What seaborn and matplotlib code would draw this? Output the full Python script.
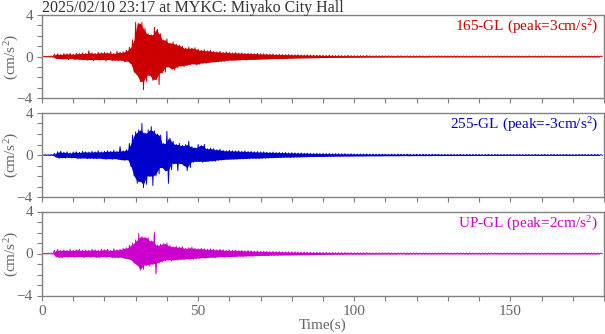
import numpy as np
import pandas as pd
import matplotlib
matplotlib.use("Agg")
import matplotlib.pyplot as plt
import seaborn as sns
from matplotlib.ticker import MultipleLocator

# ---------------- data (1 s steps, 0..179 s) ----------------
# per-second positive / negative extremes of each component (cm/s^2)
ns_up = [0.02,0.03,0.03,0.05,0.22,0.25,0.2,0.28,0.25,0.3,
         0.22,0.3,0.28,0.35,0.3,0.55,0.35,0.3,0.4,0.35,
         0.4,0.35,0.45,0.3,0.5,0.4,0.45,0.6,0.9,1.6,
         3.3,3.2,3.3,2.7,2.2,2.1,2.8,2.6,2.2,1.6,
         1.7,1.3,1.4,1.2,1.1,1.0,0.8,0.9,0.8,0.85,
         0.7,0.6,0.65,0.55,0.6,0.5,0.45,0.5,0.4,0.45,
         0.4,0.35,0.38,0.33,0.35,0.3,0.32,0.3,0.28,0.3,
         0.25,0.27,0.24,0.22,0.25,0.2,0.22,0.2,0.18,0.2,
         0.17,0.16,0.18,0.15,0.14,0.15,0.13,0.14,0.12,0.12,
         0.11,0.1,0.12,0.1,0.09,0.1,0.09,0.08,0.1,0.08,
         0.08,0.07,0.08,0.07,0.09,0.07,0.06,0.07,0.06,0.07,
         0.06,0.07,0.06,0.05,0.07,0.06,0.05,0.06,0.05,0.06,
         0.05,0.06,0.05,0.05,0.06,0.05,0.05,0.06,0.05,0.05,
         0.05,0.05,0.06,0.05,0.04,0.05,0.05,0.04,0.05,0.05,
         0.04,0.05,0.04,0.05,0.04,0.04,0.05,0.04,0.04,0.05,
         0.04,0.04,0.05,0.04,0.04,0.04,0.05,0.04,0.04,0.04,
         0.04,0.05,0.04,0.04,0.04,0.04,0.05,0.04,0.04,0.04,
         0.04,0.04,0.04,0.05,0.04,0.04,0.04,0.04,0.04,0.04]
ns_lo = [-0.02,-0.02,-0.03,-0.04,-0.18,-0.2,-0.25,-0.22,-0.3,-0.2,
         -0.28,-0.25,-0.3,-0.28,-0.35,-0.3,-0.4,-0.3,-0.35,-0.3,
         -0.45,-0.3,-0.4,-0.35,-0.4,-0.35,-0.5,-0.45,-0.7,-1.5,
         -1.8,-2.4,-3.2,-2.4,-1.8,-2.3,-2.2,-2.7,-1.6,-1.5,
         -1.0,-1.2,-1.3,-1.1,-0.9,-1.0,-0.85,-0.8,-0.7,-0.8,
         -0.75,-0.65,-0.6,-0.6,-0.55,-0.5,-0.5,-0.45,-0.45,-0.4,
         -0.35,-0.38,-0.33,-0.35,-0.3,-0.33,-0.3,-0.28,-0.3,-0.26,
         -0.27,-0.24,-0.25,-0.22,-0.2,-0.22,-0.2,-0.19,-0.2,-0.17,
         -0.18,-0.15,-0.16,-0.14,-0.15,-0.13,-0.14,-0.12,-0.13,-0.11,
         -0.1,-0.11,-0.1,-0.09,-0.1,-0.08,-0.09,-0.08,-0.08,-0.07,
         -0.07,-0.08,-0.07,-0.07,-0.06,-0.07,-0.06,-0.06,-0.07,-0.06,
         -0.06,-0.05,-0.06,-0.06,-0.05,-0.06,-0.05,-0.05,-0.06,-0.05,
         -0.05,-0.05,-0.06,-0.05,-0.05,-0.04,-0.05,-0.05,-0.04,-0.05,
         -0.05,-0.04,-0.05,-0.05,-0.04,-0.05,-0.04,-0.05,-0.04,-0.04,
         -0.05,-0.04,-0.04,-0.05,-0.04,-0.04,-0.04,-0.05,-0.04,-0.04,
         -0.04,-0.05,-0.04,-0.04,-0.04,-0.05,-0.04,-0.04,-0.04,-0.04,
         -0.05,-0.04,-0.04,-0.04,-0.04,-0.04,-0.04,-0.05,-0.04,-0.04,
         -0.04,-0.04,-0.05,-0.04,-0.04,-0.04,-0.04,-0.04,-0.04,-0.04]

ew_up = [0.02,0.02,0.03,0.03,0.15,0.3,0.35,0.25,0.3,0.2,
         0.28,0.3,0.25,0.35,0.3,0.28,0.35,0.3,0.4,0.3,
         0.35,0.4,0.35,0.45,0.35,0.8,0.4,0.5,1.1,1.9,
         2.2,2.4,3.0,2.1,2.4,2.7,2.3,2.0,1.9,1.1,
         2.25,1.6,1.3,1.0,1.1,0.9,1.0,1.3,0.8,0.7,
         1.0,0.9,1.0,0.6,0.65,0.6,0.5,0.55,0.45,0.4,
         0.45,0.4,0.38,0.4,0.35,0.4,0.33,0.35,0.3,0.32,
         0.28,0.3,0.27,0.25,0.28,0.24,0.25,0.22,0.24,0.2,
         0.22,0.2,0.18,0.2,0.17,0.18,0.16,0.15,0.17,0.14,
         0.15,0.13,0.14,0.12,0.13,0.12,0.11,0.12,0.1,0.11,
         0.1,0.09,0.1,0.09,0.1,0.08,0.09,0.08,0.09,0.08,
         0.08,0.07,0.08,0.07,0.09,0.07,0.07,0.08,0.07,0.06,
         0.07,0.06,0.07,0.06,0.06,0.07,0.06,0.06,0.05,0.06,
         0.05,0.06,0.05,0.05,0.06,0.05,0.05,0.05,0.05,0.05,
         0.05,0.04,0.05,0.05,0.04,0.05,0.05,0.04,0.05,0.04,
         0.05,0.04,0.04,0.05,0.04,0.05,0.04,0.04,0.05,0.04,
         0.04,0.05,0.04,0.04,0.05,0.04,0.04,0.04,0.05,0.04,
         0.04,0.04,0.05,0.04,0.04,0.04,0.04,0.05,0.04,0.04]
ew_lo = [-0.02,-0.02,-0.02,-0.03,-0.2,-0.3,-0.25,-0.3,-0.22,-0.28,
         -0.25,-0.3,-0.3,-0.28,-0.35,-0.3,-0.3,-0.35,-0.3,-0.35,
         -0.4,-0.35,-0.4,-0.35,-0.4,-0.45,-0.5,-0.45,-1.1,-2.0,
         -2.7,-2.5,-3.1,-2.8,-2.0,-2.9,-2.0,-1.8,-1.2,-1.5,
         -2.7,-1.4,-0.8,-1.5,-0.8,-1.0,-1.5,-1.2,-0.7,-0.6,
         -0.6,-0.7,-0.6,-0.6,-0.55,-0.6,-0.5,-0.45,-0.45,-0.4,
         -0.4,-0.38,-0.4,-0.35,-0.38,-0.33,-0.35,-0.3,-0.32,-0.3,
         -0.3,-0.27,-0.28,-0.25,-0.25,-0.24,-0.22,-0.24,-0.2,-0.22,
         -0.2,-0.19,-0.18,-0.18,-0.16,-0.17,-0.15,-0.16,-0.14,-0.15,
         -0.13,-0.14,-0.12,-0.13,-0.11,-0.12,-0.11,-0.1,-0.11,-0.1,
         -0.1,-0.09,-0.1,-0.09,-0.09,-0.08,-0.09,-0.08,-0.08,-0.08,
         -0.07,-0.08,-0.07,-0.08,-0.07,-0.07,-0.06,-0.07,-0.07,-0.06,
         -0.06,-0.07,-0.06,-0.06,-0.07,-0.06,-0.05,-0.06,-0.06,-0.05,
         -0.05,-0.06,-0.05,-0.05,-0.05,-0.06,-0.05,-0.05,-0.05,-0.04,
         -0.05,-0.05,-0.04,-0.05,-0.05,-0.04,-0.05,-0.04,-0.05,-0.04,
         -0.04,-0.05,-0.04,-0.05,-0.04,-0.04,-0.05,-0.04,-0.04,-0.05,
         -0.04,-0.04,-0.05,-0.04,-0.04,-0.04,-0.05,-0.04,-0.04,-0.04,
         -0.05,-0.04,-0.04,-0.04,-0.05,-0.04,-0.04,-0.04,-0.04,-0.04]

ud_up = [0.02,0.02,0.03,0.04,0.3,0.4,0.3,0.35,0.3,0.4,
         0.3,0.35,0.4,0.3,0.35,0.3,0.4,0.35,0.3,0.4,
         0.35,0.4,0.3,0.45,0.35,0.4,0.5,0.55,0.8,1.0,
         1.3,1.9,1.6,1.55,1.5,1.2,2.0,0.8,0.9,0.95,
         1.0,0.75,0.65,0.7,0.6,0.65,0.5,0.55,0.6,0.5,
         0.45,0.5,0.45,0.4,0.45,0.4,0.35,0.4,0.35,0.3,
         0.35,0.3,0.32,0.28,0.3,0.25,0.28,0.25,0.22,0.25,
         0.2,0.22,0.2,0.18,0.2,0.17,0.18,0.16,0.15,0.16,
         0.14,0.15,0.13,0.12,0.13,0.11,0.12,0.1,0.11,0.1,
         0.09,0.1,0.08,0.09,0.08,0.08,0.07,0.08,0.07,0.07,
         0.06,0.07,0.06,0.06,0.07,0.06,0.05,0.06,0.05,0.06,
         0.05,0.06,0.05,0.05,0.06,0.05,0.05,0.05,0.04,0.05,
         0.05,0.04,0.05,0.05,0.04,0.05,0.04,0.05,0.04,0.04,
         0.05,0.04,0.04,0.05,0.04,0.04,0.04,0.05,0.04,0.04,
         0.04,0.05,0.04,0.04,0.04,0.05,0.04,0.04,0.04,0.04,
         0.05,0.04,0.04,0.04,0.04,0.05,0.04,0.04,0.04,0.04,
         0.04,0.04,0.05,0.04,0.04,0.04,0.04,0.04,0.05,0.04,
         0.04,0.04,0.04,0.04,0.05,0.04,0.04,0.04,0.04,0.04]
ud_lo = [-0.02,-0.02,-0.02,-0.03,-0.3,-0.35,-0.4,-0.3,-0.35,-0.3,
         -0.35,-0.3,-0.3,-0.4,-0.3,-0.35,-0.3,-0.35,-0.4,-0.3,
         -0.35,-0.3,-0.4,-0.35,-0.4,-0.35,-0.45,-0.5,-0.6,-0.9,
         -1.1,-1.6,-1.5,-1.1,-1.2,-1.0,-1.95,-0.9,-0.8,-0.7,
         -0.6,-0.7,-0.6,-0.65,-0.55,-0.6,-0.5,-0.5,-0.55,-0.45,
         -0.45,-0.4,-0.45,-0.4,-0.35,-0.4,-0.35,-0.3,-0.35,-0.3,
         -0.3,-0.28,-0.3,-0.25,-0.28,-0.25,-0.22,-0.25,-0.22,-0.2,
         -0.2,-0.18,-0.2,-0.17,-0.16,-0.17,-0.15,-0.16,-0.14,-0.15,
         -0.13,-0.14,-0.12,-0.12,-0.11,-0.12,-0.1,-0.11,-0.1,-0.09,
         -0.09,-0.08,-0.09,-0.08,-0.07,-0.08,-0.07,-0.07,-0.06,-0.07,
         -0.06,-0.06,-0.07,-0.06,-0.05,-0.06,-0.06,-0.05,-0.06,-0.05,
         -0.05,-0.06,-0.05,-0.05,-0.05,-0.04,-0.05,-0.05,-0.05,-0.04,
         -0.05,-0.04,-0.05,-0.04,-0.05,-0.04,-0.04,-0.05,-0.04,-0.04,
         -0.04,-0.05,-0.04,-0.04,-0.04,-0.05,-0.04,-0.04,-0.04,-0.04,
         -0.05,-0.04,-0.04,-0.04,-0.04,-0.04,-0.05,-0.04,-0.04,-0.04,
         -0.04,-0.04,-0.04,-0.05,-0.04,-0.04,-0.04,-0.04,-0.04,-0.04,
         -0.04,-0.05,-0.04,-0.04,-0.04,-0.04,-0.04,-0.04,-0.04,-0.04,
         -0.04,-0.04,-0.04,-0.04,-0.04,-0.05,-0.04,-0.04,-0.04,-0.04]

components = ["165-GL", "255-GL", "UP-GL"]
peaks = ["3", "-3", "2"]
colors = ["#cc0000", "#0000cc", "#cc00cc"]
title = "2025/02/10 23:17 at MYKC: Miyako City Hall"
x_ticks = [0, 50, 100, 150]
y_ticks = [-4, 0, 4]

# ---------------- style ----------------
sns.set_theme(style="white")
plt.rcParams["font.family"] = ["Liberation Serif", "DejaVu Serif"]
plt.rcParams["mathtext.fontset"] = "custom"
plt.rcParams["mathtext.rm"] = "Liberation Serif"
plt.rcParams["mathtext.it"] = "Liberation Serif:italic"

GRAY = "#808080"
TXT = "#666666"
FS = 11

fig = plt.figure(figsize=(6.05, 3.34), dpi=100)
W, H = 605.0, 334.0
left, right = 42.0, 604.0
panels_px = [(15, 98), (113, 197), (211.5, 295.5)]

series = [(ns_up, ns_lo), (ew_up, ew_lo), (ud_up, ud_lo)]

for i, ((top, bot), (up, lo)) in enumerate(zip(panels_px, series)):
    ax = fig.add_axes([left / W, (H - bot) / H, (right - left) / W, (bot - top) / H])
    up_a = np.asarray(up)
    lo_a = np.asarray(lo)
    sec = np.arange(len(up_a), dtype=float)
    # solid inner body: the smaller of neighbouring extremes, so single peaks stand out as spikes
    mid = sec[:-1] + 0.5
    body_up = np.minimum(up_a[:-1], up_a[1:])
    body_lo = np.maximum(lo_a[:-1], lo_a[1:])
    ax.fill_between(mid, body_lo, body_up, color=colors[i], linewidth=0)
    # oscillating trace through the read extremes
    t = np.column_stack([sec, sec + 0.5]).ravel()
    a = np.column_stack([up_a, lo_a]).ravel()
    df = pd.DataFrame({"t": t, "a": a})
    sns.lineplot(data=df, x="t", y="a", ax=ax, color=colors[i], linewidth=0.7,
                 estimator=None, sort=False)
    ax.set_xlim(0, 180)
    ax.set_ylim(-4, 4)
    ax.set_xticks(x_ticks)
    ax.set_yticks(y_ticks)
    ax.xaxis.set_minor_locator(MultipleLocator(10))
    ax.yaxis.set_minor_locator(MultipleLocator(1))
    ax.tick_params(which="both", direction="out", length=3.5, width=0.8,
                   color=GRAY, labelcolor=TXT, labelsize=FS, pad=3,
                   top=False, right=False, bottom=True, left=True)
    for sp in ax.spines.values():
        sp.set_color(GRAY)
        sp.set_linewidth(1.0)
    ax.set_ylabel("(cm/s$^{\\mathrm{2}}$)", color=TXT, fontsize=FS)
    ax.yaxis.set_label_coords(-0.038, 0.5)
    if i < 2:
        ax.set_xticklabels([])
        ax.set_xlabel("")
    else:
        ax.set_xlabel("Time(s)", color=TXT, fontsize=FS, labelpad=1)
    ax.text(0.99, 0.965, f"{components[i]} (peak={peaks[i]}cm/s$^{{\\mathrm{{2}}}}$)",
            transform=ax.transAxes, ha="right", va="top", color=colors[i], fontsize=FS)

fig.text(left / W, (H - 11.5) / H, title, ha="left", va="baseline",
         color="#333333", fontsize=11.5)

fig.savefig("out.png", dpi=100)
